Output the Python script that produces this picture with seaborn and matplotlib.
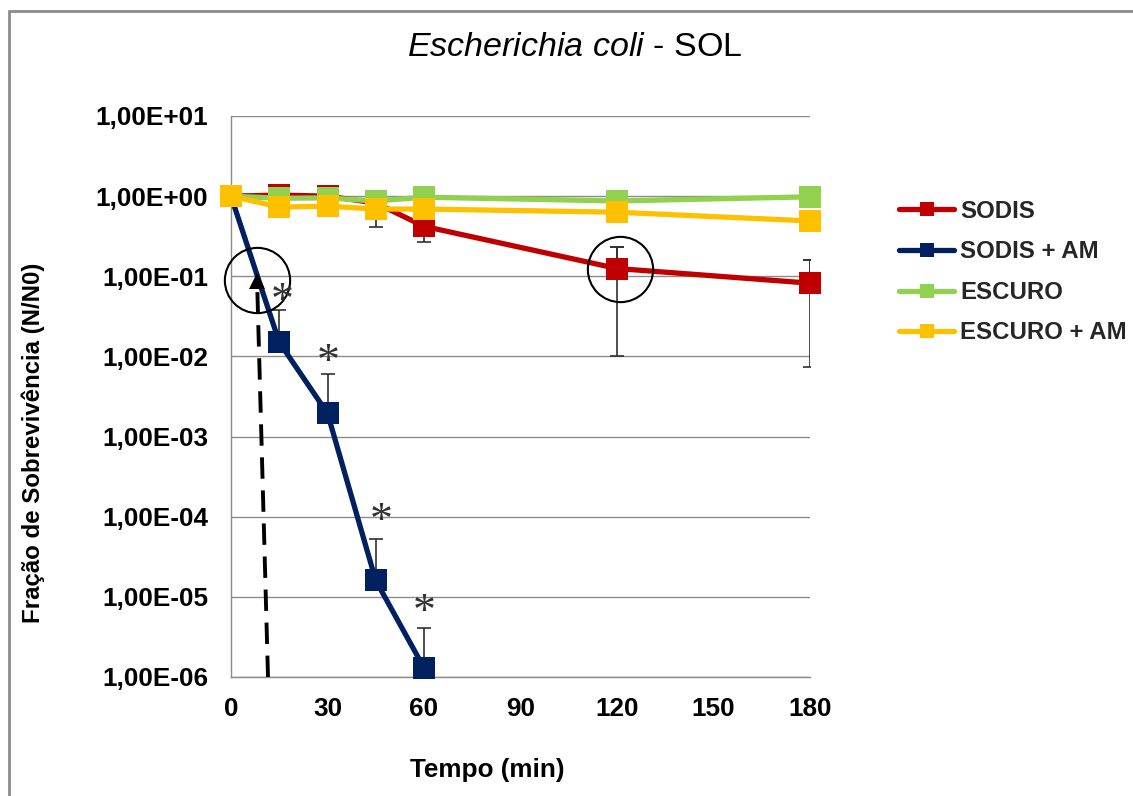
import numpy as np
import pandas as pd
import matplotlib
matplotlib.use("Agg")
import matplotlib.pyplot as plt
import matplotlib.ticker as mticker
from matplotlib.lines import Line2D
from matplotlib.patches import Rectangle
import seaborn as sns

# ---- data -------------------------------------------------------------
tempo = [0, 15, 30, 45, 60, 120, 180]

sodis = [1.0, 1.03, 1.0, 0.82, 0.42, 0.125, 0.082]
sodis_am = [1.0, 0.015, 0.00195, 1.6e-5, 1.3e-6]
escuro = [1.0, 0.94, 0.95, 0.87, 0.97, 0.87, 0.98]
escuro_am = [1.0, 0.73, 0.75, 0.69, 0.69, 0.63, 0.49]

# error bars (lower / upper limits)
sodis_err_t = [60, 120, 180]
sodis_err_lo = [0.27, 0.0100, 0.0074]
sodis_err_hi = [0.42, 0.23, 0.16]
sodis_am_err_t = [15, 30, 45, 60]
sodis_am_err_hi = [0.038, 0.006, 5.2e-5, 4.1e-6]
escuro_am_err_t = [45]
escuro_am_err_lo = [0.41]

series = ["SODIS", "SODIS + AM", "ESCURO", "ESCURO + AM"]
colors = ["#C00000", "#002060", "#92D050", "#FFC000"]

y_ticks = [1e1, 1e0, 1e-1, 1e-2, 1e-3, 1e-4, 1e-5, 1e-6]
y_labels = ["1,00E+01", "1,00E+00", "1,00E-01", "1,00E-02",
            "1,00E-03", "1,00E-04", "1,00E-05", "1,00E-06"]
x_ticks = [0, 30, 60, 90, 120, 150, 180]

# significance marks above SODIS + AM
star_t = [15.9, 30.2, 46.6, 60.0]
star_y = [0.047, 0.0080, 8.5e-5, 6.2e-6]

# ---- style --------------------------------------------------------------
sns.set_theme(style="white")
plt.rcParams["font.family"] = ["Liberation Sans", "DejaVu Sans"]
plt.rcParams["mathtext.fontset"] = "custom"
plt.rcParams["mathtext.it"] = "Liberation Sans:italic"
plt.rcParams["mathtext.rm"] = "Liberation Sans"

fig = plt.figure(figsize=(11.33, 7.96), dpi=100)
ax = fig.add_axes([0.2039, 0.1495, 0.5110, 0.7048])

frames = []
for name, vals in zip(series, [sodis, sodis_am, escuro, escuro_am]):
    frames.append(pd.DataFrame({"tempo": tempo[:len(vals)], "N": vals, "serie": name}))
df = pd.concat(frames, ignore_index=True)

grid_c = "#8C8C8C"
err_c = "#303030"
eb = dict(fmt="none", ecolor=err_c, elinewidth=1.2, capsize=5, capthick=1.2, zorder=2)

# error bars drawn first so markers sit above them
ax.errorbar(sodis_err_t, sodis_err_hi,
            yerr=[np.array(sodis_err_hi) - np.array(sodis_err_lo), [0, 0, 0]], **eb)
sodis_mid = [sodis[tempo.index(t)] for t in sodis_err_t]
ax.errorbar(sodis_err_t[1:], sodis_mid[1:],
            yerr=[[0, 0], np.array(sodis_err_hi[1:]) - np.array(sodis_mid[1:])], **eb)
am_mid = [sodis_am[tempo.index(t)] for t in sodis_am_err_t]
ax.errorbar(sodis_am_err_t, am_mid,
            yerr=[[0] * 4, np.array(sodis_am_err_hi) - np.array(am_mid)], **eb)
eam_mid = [escuro_am[tempo.index(t)] for t in escuro_am_err_t]
ax.errorbar(escuro_am_err_t, eam_mid,
            yerr=[np.array(eam_mid) - np.array(escuro_am_err_lo), [0]], **eb)

for i, (name, col) in enumerate(zip(series, colors)):
    sub = df[df["serie"] == name]
    sns.lineplot(data=sub, x="tempo", y="N", color=col, ax=ax, estimator=None,
                 linewidth=3.8, marker="s", markersize=16.5, markeredgewidth=0,
                 legend=False, zorder=3 + i, clip_on=False)

ax.set_yscale("log")
ax.set_xlim(0, 180)
ax.set_ylim(1e-6, 1e1)
ax.yaxis.set_minor_locator(mticker.NullLocator())
ax.set_yticks(y_ticks)
ax.set_yticklabels(y_labels)
ax.set_xticks(x_ticks)
ax.set_xticklabels([str(v) for v in x_ticks])
ax.set_xlabel("")
ax.set_ylabel("")

ax.grid(axis="y", color=grid_c, linewidth=1.0)
ax.grid(axis="x", visible=False)
ax.set_axisbelow(True)
for s in ["top", "right"]:
    ax.spines[s].set_visible(False)
for s in ["left", "bottom"]:
    ax.spines[s].set_color(grid_c)
    ax.spines[s].set_linewidth(1.0)
ax.tick_params(axis="both", which="major", direction="out", length=6.5,
               width=1.0, color=grid_c, labelsize=18.8, labelcolor="black")
ax.tick_params(axis="x", pad=8)
ax.tick_params(axis="y", pad=10)
for lab in ax.get_xticklabels() + ax.get_yticklabels():
    lab.set_fontweight("bold")

# significance asterisks
for t, y in zip(star_t, star_y):
    ax.text(t, y, "*", family="Liberation Serif", fontsize=33, color="#333333",
            ha="center", va="center", zorder=9)

# highlighted points
ax.plot([8.1], [0.0894], marker="o", markersize=47, fillstyle="none",
        markeredgecolor="black", markeredgewidth=1.5, linestyle="none",
        zorder=8, clip_on=False)
ax.plot([120.9], [0.123], marker="o", markersize=47, fillstyle="none",
        markeredgecolor="black", markeredgewidth=1.5, linestyle="none",
        zorder=8, clip_on=False)

# dashed arrow marking the detection limit crossing
ax.plot([11.5, 8.15], [1e-6, 0.075], color="black", linewidth=2.8,
        linestyle=(0, (5.5, 3)), zorder=8, clip_on=False)
ax.plot([8.1], [0.088], marker="^", markersize=11, color="black",
        markeredgewidth=0, zorder=9, clip_on=False)

# titles and labels
fig.text(0.5075, 0.940, r"$\mathit{Escherichia\ coli}$ - SOL", ha="center",
         va="center", fontsize=24.5, color="black")
fig.text(0.430, 0.0327, "Tempo (min)", ha="center", va="center",
         fontsize=18.8, fontweight="bold", color="black")
fig.text(0.0296, 0.4435, "Fração de Sobrevivência (N/N0)", ha="center",
         va="center", rotation=90, fontsize=17.3, fontweight="bold", color="black")

# legend
handles = [Line2D([0], [0], color=c, linewidth=3.8, marker="s", markersize=10,
                  markeredgewidth=0) for c in colors]
fig.legend(handles, series, loc="upper left", bbox_to_anchor=(0.7850, 0.761),
           frameon=False, prop={"family": "Liberation Sans", "weight": "bold", "size": 17.3},
           handlelength=2.3, handletextpad=0.25, labelspacing=0.73, borderaxespad=0)

# chart frame
fig.patches.append(Rectangle((9 / 1133, -0.05), 1.2, 1.05 - 11 / 796,
                             transform=fig.transFigure, fill=False,
                             edgecolor="#8C8C8C", linewidth=2.0))

fig.savefig("out.png", dpi=100, facecolor="white")
